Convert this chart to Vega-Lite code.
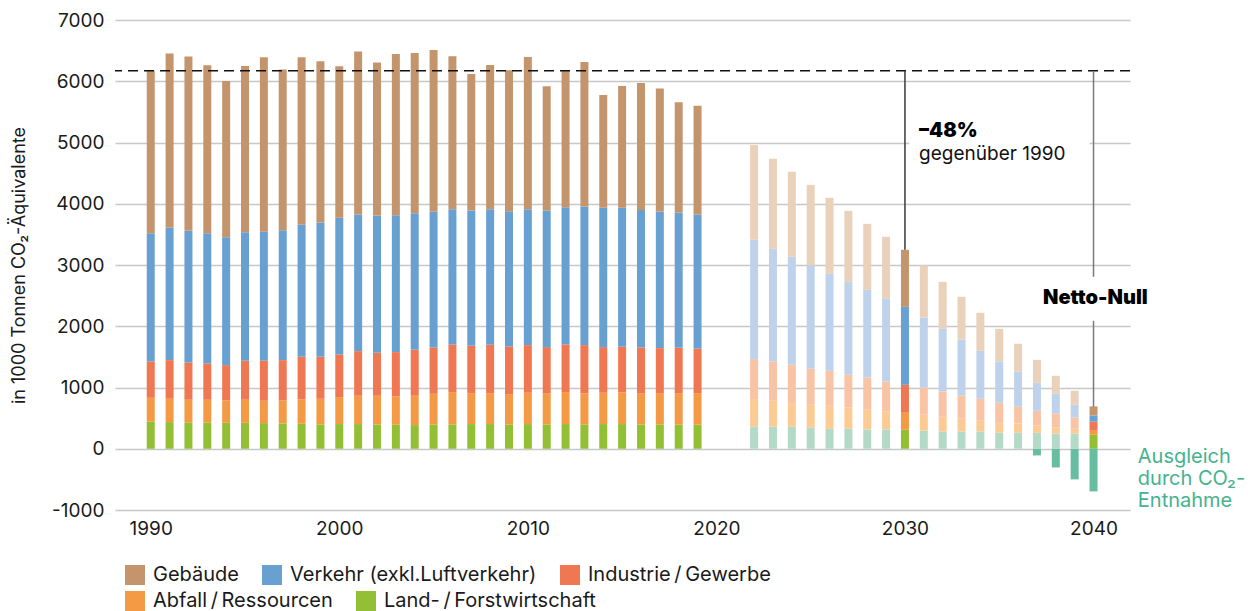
{
  "$schema": "https://vega.github.io/schema/vega-lite/v6.json",
  "width": 1015,
  "height": 490,
  "autosize": {"type": "none"},
  "padding": {"left": 115, "top": 20, "right": 118, "bottom": 101},
  "background": "white",
  "config": {
    "font": "Inter",
    "view": {"stroke": null},
    "axis": {
      "domain": false, "ticks": false, "tickSize": 0,
      "labelFont": "Inter", "labelFontSize": 19, "labelColor": "#1a1a1a",
      "titleFont": "Inter", "titleFontSize": 18, "titleFontWeight": "normal", "titleColor": "#1a1a1a"
    },
    "axisY": {"grid": true, "gridColor": "#c8c8c8", "gridWidth": 1.5, "labelPadding": 11, "titlePadding": 23},
    "axisX": {"grid": false, "labelPadding": 9, "labelFlush": false},
    "legend": {
      "orient": "none", "direction": "horizontal",
      "padding": 0, "columnPadding": 23,
      "symbolType": "square", "symbolSize": 400, "symbolStrokeWidth": 0, "symbolOpacity": 1,
      "labelFont": "Inter", "labelFontSize": 20, "labelLimit": 500, "labelColor": "#1a1a1a", "labelOffset": 8, "title": null
    }
  },
  "datasets": {
    "voll": [
      {"j":1990,"s":"Land-\u2009/\u2009Forstwirtschaft","v":446,"r":1},{"j":1990,"s":"Abfall\u2009/\u2009Ressourcen","v":386,"r":2},{"j":1990,"s":"Industrie\u2009/\u2009Gewerbe","v":593,"r":3},{"j":1990,"s":"Verkehr (exkl.Luftverkehr)","v":2095,"r":4},{"j":1990,"s":"Gebäude","v":2650,"r":5},
      {"j":1991,"s":"Land-\u2009/\u2009Forstwirtschaft","v":435,"r":1},{"j":1991,"s":"Abfall\u2009/\u2009Ressourcen","v":381,"r":2},{"j":1991,"s":"Industrie\u2009/\u2009Gewerbe","v":631,"r":3},{"j":1991,"s":"Verkehr (exkl.Luftverkehr)","v":2165,"r":4},{"j":1991,"s":"Gebäude","v":2840,"r":5},
      {"j":1992,"s":"Land-\u2009/\u2009Forstwirtschaft","v":430,"r":1},{"j":1992,"s":"Abfall\u2009/\u2009Ressourcen","v":370,"r":2},{"j":1992,"s":"Industrie\u2009/\u2009Gewerbe","v":609,"r":3},{"j":1992,"s":"Verkehr (exkl.Luftverkehr)","v":2154,"r":4},{"j":1992,"s":"Gebäude","v":2840,"r":5},
      {"j":1993,"s":"Land-\u2009/\u2009Forstwirtschaft","v":430,"r":1},{"j":1993,"s":"Abfall\u2009/\u2009Ressourcen","v":370,"r":2},{"j":1993,"s":"Industrie\u2009/\u2009Gewerbe","v":593,"r":3},{"j":1993,"s":"Verkehr (exkl.Luftverkehr)","v":2127,"r":4},{"j":1993,"s":"Gebäude","v":2741,"r":5},
      {"j":1994,"s":"Land-\u2009/\u2009Forstwirtschaft","v":424,"r":1},{"j":1994,"s":"Abfall\u2009/\u2009Ressourcen","v":365,"r":2},{"j":1994,"s":"Industrie\u2009/\u2009Gewerbe","v":576,"r":3},{"j":1994,"s":"Verkehr (exkl.Luftverkehr)","v":2089,"r":4},{"j":1994,"s":"Gebäude","v":2552,"r":5},
      {"j":1995,"s":"Land-\u2009/\u2009Forstwirtschaft","v":424,"r":1},{"j":1995,"s":"Abfall\u2009/\u2009Ressourcen","v":376,"r":2},{"j":1995,"s":"Industrie\u2009/\u2009Gewerbe","v":636,"r":3},{"j":1995,"s":"Verkehr (exkl.Luftverkehr)","v":2100,"r":4},{"j":1995,"s":"Gebäude","v":2715,"r":5},
      {"j":1996,"s":"Land-\u2009/\u2009Forstwirtschaft","v":419,"r":1},{"j":1996,"s":"Abfall\u2009/\u2009Ressourcen","v":364,"r":2},{"j":1996,"s":"Industrie\u2009/\u2009Gewerbe","v":659,"r":3},{"j":1996,"s":"Verkehr (exkl.Luftverkehr)","v":2099,"r":4},{"j":1996,"s":"Gebäude","v":2851,"r":5},
      {"j":1997,"s":"Land-\u2009/\u2009Forstwirtschaft","v":413,"r":1},{"j":1997,"s":"Abfall\u2009/\u2009Ressourcen","v":376,"r":2},{"j":1997,"s":"Industrie\u2009/\u2009Gewerbe","v":658,"r":3},{"j":1997,"s":"Verkehr (exkl.Luftverkehr)","v":2122,"r":4},{"j":1997,"s":"Gebäude","v":2622,"r":5},
      {"j":1998,"s":"Land-\u2009/\u2009Forstwirtschaft","v":408,"r":1},{"j":1998,"s":"Abfall\u2009/\u2009Ressourcen","v":397,"r":2},{"j":1998,"s":"Industrie\u2009/\u2009Gewerbe","v":696,"r":3},{"j":1998,"s":"Verkehr (exkl.Luftverkehr)","v":2155,"r":4},{"j":1998,"s":"Gebäude","v":2736,"r":5},
      {"j":1999,"s":"Land-\u2009/\u2009Forstwirtschaft","v":397,"r":1},{"j":1999,"s":"Abfall\u2009/\u2009Ressourcen","v":419,"r":2},{"j":1999,"s":"Industrie\u2009/\u2009Gewerbe","v":685,"r":3},{"j":1999,"s":"Verkehr (exkl.Luftverkehr)","v":2193,"r":4},{"j":1999,"s":"Gebäude","v":2633,"r":5},
      {"j":2000,"s":"Land-\u2009/\u2009Forstwirtschaft","v":403,"r":1},{"j":2000,"s":"Abfall\u2009/\u2009Ressourcen","v":440,"r":2},{"j":2000,"s":"Industrie\u2009/\u2009Gewerbe","v":697,"r":3},{"j":2000,"s":"Verkehr (exkl.Luftverkehr)","v":2230,"r":4},{"j":2000,"s":"Gebäude","v":2475,"r":5},
      {"j":2001,"s":"Land-\u2009/\u2009Forstwirtschaft","v":403,"r":1},{"j":2001,"s":"Abfall\u2009/\u2009Ressourcen","v":462,"r":2},{"j":2001,"s":"Industrie\u2009/\u2009Gewerbe","v":729,"r":3},{"j":2001,"s":"Verkehr (exkl.Luftverkehr)","v":2230,"r":4},{"j":2001,"s":"Gebäude","v":2660,"r":5},
      {"j":2002,"s":"Land-\u2009/\u2009Forstwirtschaft","v":397,"r":1},{"j":2002,"s":"Abfall\u2009/\u2009Ressourcen","v":468,"r":2},{"j":2002,"s":"Industrie\u2009/\u2009Gewerbe","v":702,"r":3},{"j":2002,"s":"Verkehr (exkl.Luftverkehr)","v":2241,"r":4},{"j":2002,"s":"Gebäude","v":2497,"r":5},
      {"j":2003,"s":"Land-\u2009/\u2009Forstwirtschaft","v":392,"r":1},{"j":2003,"s":"Abfall\u2009/\u2009Ressourcen","v":462,"r":2},{"j":2003,"s":"Industrie\u2009/\u2009Gewerbe","v":724,"r":3},{"j":2003,"s":"Verkehr (exkl.Luftverkehr)","v":2235,"r":4},{"j":2003,"s":"Gebäude","v":2633,"r":5},
      {"j":2004,"s":"Land-\u2009/\u2009Forstwirtschaft","v":386,"r":1},{"j":2004,"s":"Abfall\u2009/\u2009Ressourcen","v":479,"r":2},{"j":2004,"s":"Industrie\u2009/\u2009Gewerbe","v":751,"r":3},{"j":2004,"s":"Verkehr (exkl.Luftverkehr)","v":2230,"r":4},{"j":2004,"s":"Gebäude","v":2617,"r":5},
      {"j":2005,"s":"Land-\u2009/\u2009Forstwirtschaft","v":397,"r":1},{"j":2005,"s":"Abfall\u2009/\u2009Ressourcen","v":501,"r":2},{"j":2005,"s":"Industrie\u2009/\u2009Gewerbe","v":756,"r":3},{"j":2005,"s":"Verkehr (exkl.Luftverkehr)","v":2214,"r":4},{"j":2005,"s":"Gebäude","v":2644,"r":5},
      {"j":2006,"s":"Land-\u2009/\u2009Forstwirtschaft","v":397,"r":1},{"j":2006,"s":"Abfall\u2009/\u2009Ressourcen","v":528,"r":2},{"j":2006,"s":"Industrie\u2009/\u2009Gewerbe","v":778,"r":3},{"j":2006,"s":"Verkehr (exkl.Luftverkehr)","v":2208,"r":4},{"j":2006,"s":"Gebäude","v":2497,"r":5},
      {"j":2007,"s":"Land-\u2009/\u2009Forstwirtschaft","v":403,"r":1},{"j":2007,"s":"Abfall\u2009/\u2009Ressourcen","v":505,"r":2},{"j":2007,"s":"Industrie\u2009/\u2009Gewerbe","v":773,"r":3},{"j":2007,"s":"Verkehr (exkl.Luftverkehr)","v":2209,"r":4},{"j":2007,"s":"Gebäude","v":2230,"r":5},
      {"j":2008,"s":"Land-\u2009/\u2009Forstwirtschaft","v":403,"r":1},{"j":2008,"s":"Abfall\u2009/\u2009Ressourcen","v":505,"r":2},{"j":2008,"s":"Industrie\u2009/\u2009Gewerbe","v":789,"r":3},{"j":2008,"s":"Verkehr (exkl.Luftverkehr)","v":2214,"r":4},{"j":2008,"s":"Gebäude","v":2356,"r":5},
      {"j":2009,"s":"Land-\u2009/\u2009Forstwirtschaft","v":397,"r":1},{"j":2009,"s":"Abfall\u2009/\u2009Ressourcen","v":495,"r":2},{"j":2009,"s":"Industrie\u2009/\u2009Gewerbe","v":778,"r":3},{"j":2009,"s":"Verkehr (exkl.Luftverkehr)","v":2209,"r":4},{"j":2009,"s":"Gebäude","v":2301,"r":5},
      {"j":2010,"s":"Land-\u2009/\u2009Forstwirtschaft","v":403,"r":1},{"j":2010,"s":"Abfall\u2009/\u2009Ressourcen","v":511,"r":2},{"j":2010,"s":"Industrie\u2009/\u2009Gewerbe","v":778,"r":3},{"j":2010,"s":"Verkehr (exkl.Luftverkehr)","v":2219,"r":4},{"j":2010,"s":"Gebäude","v":2486,"r":5},
      {"j":2011,"s":"Land-\u2009/\u2009Forstwirtschaft","v":397,"r":1},{"j":2011,"s":"Abfall\u2009/\u2009Ressourcen","v":511,"r":2},{"j":2011,"s":"Industrie\u2009/\u2009Gewerbe","v":751,"r":3},{"j":2011,"s":"Verkehr (exkl.Luftverkehr)","v":2231,"r":4},{"j":2011,"s":"Gebäude","v":2029,"r":5},
      {"j":2012,"s":"Land-\u2009/\u2009Forstwirtschaft","v":403,"r":1},{"j":2012,"s":"Abfall\u2009/\u2009Ressourcen","v":522,"r":2},{"j":2012,"s":"Industrie\u2009/\u2009Gewerbe","v":778,"r":3},{"j":2012,"s":"Verkehr (exkl.Luftverkehr)","v":2241,"r":4},{"j":2012,"s":"Gebäude","v":2236,"r":5},
      {"j":2013,"s":"Land-\u2009/\u2009Forstwirtschaft","v":397,"r":1},{"j":2013,"s":"Abfall\u2009/\u2009Ressourcen","v":506,"r":2},{"j":2013,"s":"Industrie\u2009/\u2009Gewerbe","v":789,"r":3},{"j":2013,"s":"Verkehr (exkl.Luftverkehr)","v":2263,"r":4},{"j":2013,"s":"Gebäude","v":2361,"r":5},
      {"j":2014,"s":"Land-\u2009/\u2009Forstwirtschaft","v":403,"r":1},{"j":2014,"s":"Abfall\u2009/\u2009Ressourcen","v":511,"r":2},{"j":2014,"s":"Industrie\u2009/\u2009Gewerbe","v":745,"r":3},{"j":2014,"s":"Verkehr (exkl.Luftverkehr)","v":2274,"r":4},{"j":2014,"s":"Gebäude","v":1844,"r":5},
      {"j":2015,"s":"Land-\u2009/\u2009Forstwirtschaft","v":403,"r":1},{"j":2015,"s":"Abfall\u2009/\u2009Ressourcen","v":516,"r":2},{"j":2015,"s":"Industrie\u2009/\u2009Gewerbe","v":746,"r":3},{"j":2015,"s":"Verkehr (exkl.Luftverkehr)","v":2268,"r":4},{"j":2015,"s":"Gebäude","v":1991,"r":5},
      {"j":2016,"s":"Land-\u2009/\u2009Forstwirtschaft","v":397,"r":1},{"j":2016,"s":"Abfall\u2009/\u2009Ressourcen","v":511,"r":2},{"j":2016,"s":"Industrie\u2009/\u2009Gewerbe","v":746,"r":3},{"j":2016,"s":"Verkehr (exkl.Luftverkehr)","v":2246,"r":4},{"j":2016,"s":"Gebäude","v":2073,"r":5},
      {"j":2017,"s":"Land-\u2009/\u2009Forstwirtschaft","v":397,"r":1},{"j":2017,"s":"Abfall\u2009/\u2009Ressourcen","v":511,"r":2},{"j":2017,"s":"Industrie\u2009/\u2009Gewerbe","v":735,"r":3},{"j":2017,"s":"Verkehr (exkl.Luftverkehr)","v":2230,"r":4},{"j":2017,"s":"Gebäude","v":2008,"r":5},
      {"j":2018,"s":"Land-\u2009/\u2009Forstwirtschaft","v":392,"r":1},{"j":2018,"s":"Abfall\u2009/\u2009Ressourcen","v":516,"r":2},{"j":2018,"s":"Industrie\u2009/\u2009Gewerbe","v":740,"r":3},{"j":2018,"s":"Verkehr (exkl.Luftverkehr)","v":2209,"r":4},{"j":2018,"s":"Gebäude","v":1801,"r":5},
      {"j":2019,"s":"Land-\u2009/\u2009Forstwirtschaft","v":392,"r":1},{"j":2019,"s":"Abfall\u2009/\u2009Ressourcen","v":516,"r":2},{"j":2019,"s":"Industrie\u2009/\u2009Gewerbe","v":729,"r":3},{"j":2019,"s":"Verkehr (exkl.Luftverkehr)","v":2187,"r":4},{"j":2019,"s":"Gebäude","v":1774,"r":5},
      {"j":2030,"s":"Land-\u2009/\u2009Forstwirtschaft","v":310,"r":1},{"j":2030,"s":"Abfall\u2009/\u2009Ressourcen","v":278,"r":2},{"j":2030,"s":"Industrie\u2009/\u2009Gewerbe","v":456,"r":3},{"j":2030,"s":"Verkehr (exkl.Luftverkehr)","v":1273,"r":4},{"j":2030,"s":"Gebäude","v":931,"r":5},
      {"j":2040,"s":"Land-\u2009/\u2009Forstwirtschaft","v":228,"r":1},{"j":2040,"s":"Abfall\u2009/\u2009Ressourcen","v":66,"r":2},{"j":2040,"s":"Industrie\u2009/\u2009Gewerbe","v":147,"r":3},{"j":2040,"s":"Verkehr (exkl.Luftverkehr)","v":103,"r":4},{"j":2040,"s":"Gebäude","v":147,"r":5}
    ],
    "entnahme": [
      {"j":2037,"s":"CO₂-Entnahme","v":-109},{"j":2038,"s":"CO₂-Entnahme","v":-305},{"j":2039,"s":"CO₂-Entnahme","v":-500},{"j":2040,"s":"CO₂-Entnahme","v":-696}
    ],
    "blass": [
      {"j":2022,"s":"Land-\u2009/\u2009Forstwirtschaft","v":359,"r":1},{"j":2022,"s":"Abfall\u2009/\u2009Ressourcen","v":452,"r":2},{"j":2022,"s":"Industrie\u2009/\u2009Gewerbe","v":652,"r":3},{"j":2022,"s":"Verkehr (exkl.Luftverkehr)","v":1948,"r":4},{"j":2022,"s":"Gebäude","v":1550,"r":5},
      {"j":2023,"s":"Land-\u2009/\u2009Forstwirtschaft","v":359,"r":1},{"j":2023,"s":"Abfall\u2009/\u2009Ressourcen","v":424,"r":2},{"j":2023,"s":"Industrie\u2009/\u2009Gewerbe","v":642,"r":3},{"j":2023,"s":"Verkehr (exkl.Luftverkehr)","v":1839,"r":4},{"j":2023,"s":"Gebäude","v":1469,"r":5},
      {"j":2024,"s":"Land-\u2009/\u2009Forstwirtschaft","v":359,"r":1},{"j":2024,"s":"Abfall\u2009/\u2009Ressourcen","v":386,"r":2},{"j":2024,"s":"Industrie\u2009/\u2009Gewerbe","v":626,"r":3},{"j":2024,"s":"Verkehr (exkl.Luftverkehr)","v":1762,"r":4},{"j":2024,"s":"Gebäude","v":1388,"r":5},
      {"j":2025,"s":"Land-\u2009/\u2009Forstwirtschaft","v":348,"r":1},{"j":2025,"s":"Abfall\u2009/\u2009Ressourcen","v":370,"r":2},{"j":2025,"s":"Industrie\u2009/\u2009Gewerbe","v":588,"r":3},{"j":2025,"s":"Verkehr (exkl.Luftverkehr)","v":1686,"r":4},{"j":2025,"s":"Gebäude","v":1316,"r":5},
      {"j":2026,"s":"Land-\u2009/\u2009Forstwirtschaft","v":326,"r":1},{"j":2026,"s":"Abfall\u2009/\u2009Ressourcen","v":376,"r":2},{"j":2026,"s":"Industrie\u2009/\u2009Gewerbe","v":571,"r":3},{"j":2026,"s":"Verkehr (exkl.Luftverkehr)","v":1583,"r":4},{"j":2026,"s":"Gebäude","v":1240,"r":5},
      {"j":2027,"s":"Land-\u2009/\u2009Forstwirtschaft","v":326,"r":1},{"j":2027,"s":"Abfall\u2009/\u2009Ressourcen","v":349,"r":2},{"j":2027,"s":"Industrie\u2009/\u2009Gewerbe","v":533,"r":3},{"j":2027,"s":"Verkehr (exkl.Luftverkehr)","v":1517,"r":4},{"j":2027,"s":"Gebäude","v":1159,"r":5},
      {"j":2028,"s":"Land-\u2009/\u2009Forstwirtschaft","v":316,"r":1},{"j":2028,"s":"Abfall\u2009/\u2009Ressourcen","v":320,"r":2},{"j":2028,"s":"Industrie\u2009/\u2009Gewerbe","v":528,"r":3},{"j":2028,"s":"Verkehr (exkl.Luftverkehr)","v":1431,"r":4},{"j":2028,"s":"Gebäude","v":1077,"r":5},
      {"j":2029,"s":"Land-\u2009/\u2009Forstwirtschaft","v":316,"r":1},{"j":2029,"s":"Abfall\u2009/\u2009Ressourcen","v":288,"r":2},{"j":2029,"s":"Industrie\u2009/\u2009Gewerbe","v":495,"r":3},{"j":2029,"s":"Verkehr (exkl.Luftverkehr)","v":1349,"r":4},{"j":2029,"s":"Gebäude","v":1012,"r":5},
      {"j":2031,"s":"Land-\u2009/\u2009Forstwirtschaft","v":294,"r":1},{"j":2031,"s":"Abfall\u2009/\u2009Ressourcen","v":261,"r":2},{"j":2031,"s":"Industrie\u2009/\u2009Gewerbe","v":446,"r":3},{"j":2031,"s":"Verkehr (exkl.Luftverkehr)","v":1142,"r":4},{"j":2031,"s":"Gebäude","v":849,"r":5},
      {"j":2032,"s":"Land-\u2009/\u2009Forstwirtschaft","v":283,"r":1},{"j":2032,"s":"Abfall\u2009/\u2009Ressourcen","v":239,"r":2},{"j":2032,"s":"Industrie\u2009/\u2009Gewerbe","v":414,"r":3},{"j":2032,"s":"Verkehr (exkl.Luftverkehr)","v":1022,"r":4},{"j":2032,"s":"Gebäude","v":767,"r":5},
      {"j":2033,"s":"Land-\u2009/\u2009Forstwirtschaft","v":283,"r":1},{"j":2033,"s":"Abfall\u2009/\u2009Ressourcen","v":207,"r":2},{"j":2033,"s":"Industrie\u2009/\u2009Gewerbe","v":380,"r":3},{"j":2033,"s":"Verkehr (exkl.Luftverkehr)","v":914,"r":4},{"j":2033,"s":"Gebäude","v":697,"r":5},
      {"j":2034,"s":"Land-\u2009/\u2009Forstwirtschaft","v":283,"r":1},{"j":2034,"s":"Abfall\u2009/\u2009Ressourcen","v":174,"r":2},{"j":2034,"s":"Industrie\u2009/\u2009Gewerbe","v":359,"r":3},{"j":2034,"s":"Verkehr (exkl.Luftverkehr)","v":783,"r":4},{"j":2034,"s":"Gebäude","v":621,"r":5},
      {"j":2035,"s":"Land-\u2009/\u2009Forstwirtschaft","v":261,"r":1},{"j":2035,"s":"Abfall\u2009/\u2009Ressourcen","v":158,"r":2},{"j":2035,"s":"Industrie\u2009/\u2009Gewerbe","v":332,"r":3},{"j":2035,"s":"Verkehr (exkl.Luftverkehr)","v":674,"r":4},{"j":2035,"s":"Gebäude","v":533,"r":5},
      {"j":2036,"s":"Land-\u2009/\u2009Forstwirtschaft","v":261,"r":1},{"j":2036,"s":"Abfall\u2009/\u2009Ressourcen","v":152,"r":2},{"j":2036,"s":"Industrie\u2009/\u2009Gewerbe","v":272,"r":3},{"j":2036,"s":"Verkehr (exkl.Luftverkehr)","v":577,"r":4},{"j":2036,"s":"Gebäude","v":452,"r":5},
      {"j":2037,"s":"Land-\u2009/\u2009Forstwirtschaft","v":261,"r":1},{"j":2037,"s":"Abfall\u2009/\u2009Ressourcen","v":120,"r":2},{"j":2037,"s":"Industrie\u2009/\u2009Gewerbe","v":239,"r":3},{"j":2037,"s":"Verkehr (exkl.Luftverkehr)","v":457,"r":4},{"j":2037,"s":"Gebäude","v":375,"r":5},
      {"j":2038,"s":"Land-\u2009/\u2009Forstwirtschaft","v":250,"r":1},{"j":2038,"s":"Abfall\u2009/\u2009Ressourcen","v":98,"r":2},{"j":2038,"s":"Industrie\u2009/\u2009Gewerbe","v":229,"r":3},{"j":2038,"s":"Verkehr (exkl.Luftverkehr)","v":326,"r":4},{"j":2038,"s":"Gebäude","v":288,"r":5},
      {"j":2039,"s":"Land-\u2009/\u2009Forstwirtschaft","v":250,"r":1},{"j":2039,"s":"Abfall\u2009/\u2009Ressourcen","v":76,"r":2},{"j":2039,"s":"Industrie\u2009/\u2009Gewerbe","v":185,"r":3},{"j":2039,"s":"Verkehr (exkl.Luftverkehr)","v":207,"r":4},{"j":2039,"s":"Gebäude","v":229,"r":5}
    ]
  },
  "layer": [
    {
      "data": {"values": [{"j": 2030.23, "j2": 2039.79, "v": 5600, "v2": 4500}]},
      "mark": {"type": "rect", "fill": "white"},
      "encoding": {
        "x": {"field": "j", "type": "quantitative", "title": null},
        "x2": {"field": "j2"},
        "y": {"field": "v", "type": "quantitative", "title": "in 1000 Tonnen CO₂-Äquivalente"},
        "y2": {"field": "v2"}
      }
    },
    {
      "data": {"name": "voll"},
      "mark": {"type": "bar", "size": 8},
      "encoding": {
        "x": {"field": "j", "type": "quantitative", "title": null,
          "scale": {"domain": [1988.37, 2041.67], "nice": false, "zero": false},
          "axis": {"values": [1990, 2000, 2010, 2020, 2030, 2040], "format": "d"}},
        "y": {"field": "v", "type": "quantitative", "title": "in 1000 Tonnen CO₂-Äquivalente",
          "scale": {"domain": [-1000, 7000], "nice": false},
          "axis": {"values": [-1000, 0, 1000, 2000, 3000, 4000, 5000, 6000, 7000], "labelExpr": "'' + datum.value"}},
        "color": {"field": "s", "type": "nominal",
          "scale": {"domain": ["Gebäude", "Verkehr (exkl.Luftverkehr)", "Industrie\u2009/\u2009Gewerbe", "Abfall\u2009/\u2009Ressourcen", "Land-\u2009/\u2009Forstwirtschaft"],
                    "range": ["#C4956C", "#68A0D2", "#EF7752", "#F49A45", "#93BF35"]},
          "legend": {"values": ["Gebäude", "Verkehr (exkl.Luftverkehr)", "Industrie\u2009/\u2009Gewerbe"],
                     "orient": "none", "legendX": 10, "legendY": 545, "direction": "horizontal"}},
        "order": {"field": "r"}
      }
    },
    {
      "data": {"name": "entnahme"},
      "mark": {"type": "bar", "size": 8},
      "encoding": {
        "x": {"field": "j", "type": "quantitative", "title": null},
        "y": {"field": "v", "type": "quantitative", "title": "in 1000 Tonnen CO₂-Äquivalente"},
        "color": {"field": "s", "type": "nominal",
          "scale": {"domain": ["Abfall\u2009/\u2009Ressourcen", "Land-\u2009/\u2009Forstwirtschaft", "CO₂-Entnahme"],
                    "range": ["#F49A45", "#93BF35", "#67BD9F"]},
          "legend": {"values": ["Abfall\u2009/\u2009Ressourcen", "Land-\u2009/\u2009Forstwirtschaft"],
                     "orient": "none", "legendX": 10, "legendY": 571, "direction": "horizontal"}}
      }
    },
    {
      "data": {"name": "blass"},
      "mark": {"type": "bar", "size": 8},
      "encoding": {
        "x": {"field": "j", "type": "quantitative", "title": null},
        "y": {"field": "v", "type": "quantitative", "title": "in 1000 Tonnen CO₂-Äquivalente"},
        "color": {"field": "s", "type": "nominal",
          "scale": {"domain": ["Gebäude", "Verkehr (exkl.Luftverkehr)", "Industrie\u2009/\u2009Gewerbe", "Abfall\u2009/\u2009Ressourcen", "Land-\u2009/\u2009Forstwirtschaft"],
                    "range": ["#E9D1BA", "#BED2EC", "#F9C3A5", "#FCCB93", "#B3D9C7"]},
          "legend": null},
        "order": {"field": "r"}
      }
    },
    {
      "data": {"values": [{"v": 6170}]},
      "mark": {"type": "rule", "color": "#111111", "strokeWidth": 1.5, "strokeDash": [10, 6]},
      "encoding": {"y": {"field": "v", "type": "quantitative", "title": "in 1000 Tonnen CO₂-Äquivalente"}}
    },
    {
      "data": {"values": [{"j": 2030, "v": 3248, "v2": 6170}]},
      "mark": {"type": "rule", "color": "#3a3a3a", "strokeWidth": 1.5},
      "encoding": {
        "x": {"field": "j", "type": "quantitative", "title": null},
        "y": {"field": "v", "type": "quantitative", "title": "in 1000 Tonnen CO₂-Äquivalente"},
        "y2": {"field": "v2"}
      }
    },
    {
      "data": {"values": [{"j": 2040, "v": 2807, "v2": 6170}, {"j": 2040, "v": 685, "v2": 2089}]},
      "mark": {"type": "rule", "color": "#7a7a7a", "strokeWidth": 1.5},
      "encoding": {
        "x": {"field": "j", "type": "quantitative", "title": null},
        "y": {"field": "v", "type": "quantitative", "title": "in 1000 Tonnen CO₂-Äquivalente"},
        "y2": {"field": "v2"}
      }
    },
    {
      "data": {"values": [{"j": 2030.75, "v": 5090, "t": "–48%"}]},
      "mark": {"type": "text", "align": "left", "baseline": "alphabetic", "font": "Inter", "fontWeight": 900, "fontSize": 20, "color": "#000000"},
      "encoding": {
        "x": {"field": "j", "type": "quantitative", "title": null},
        "y": {"field": "v", "type": "quantitative", "title": "in 1000 Tonnen CO₂-Äquivalente"},
        "text": {"field": "t"}
      }
    },
    {
      "data": {"values": [{"j": 2030.75, "v": 4714, "t": "gegenüber 1990"}]},
      "mark": {"type": "text", "align": "left", "baseline": "alphabetic", "font": "Inter", "fontSize": 19, "color": "#111111"},
      "encoding": {
        "x": {"field": "j", "type": "quantitative", "title": null},
        "y": {"field": "v", "type": "quantitative", "title": "in 1000 Tonnen CO₂-Äquivalente"},
        "text": {"field": "t"}
      }
    },
    {
      "data": {"values": [{"j": 2040.1, "v": 2363, "t": "Netto-Null"}]},
      "mark": {"type": "text", "align": "center", "baseline": "alphabetic", "font": "Inter", "fontWeight": 900, "fontSize": 20, "color": "#000000"},
      "encoding": {
        "x": {"field": "j", "type": "quantitative", "title": null},
        "y": {"field": "v", "type": "quantitative", "title": "in 1000 Tonnen CO₂-Äquivalente"},
        "text": {"field": "t"}
      }
    },
    {
      "data": {"values": [{"j": 2042.35, "v": -228, "t": ["Ausgleich", "durch CO₂-", "Entnahme"]}]},
      "mark": {"type": "text", "align": "left", "baseline": "alphabetic", "font": "Inter", "fontSize": 20, "lineHeight": 22.3, "color": "#45B38E"},
      "encoding": {
        "x": {"field": "j", "type": "quantitative", "title": null},
        "y": {"field": "v", "type": "quantitative", "title": "in 1000 Tonnen CO₂-Äquivalente"},
        "text": {"field": "t"}
      }
    }
  ],
  "resolve": {"scale": {"color": "independent"}}
}
